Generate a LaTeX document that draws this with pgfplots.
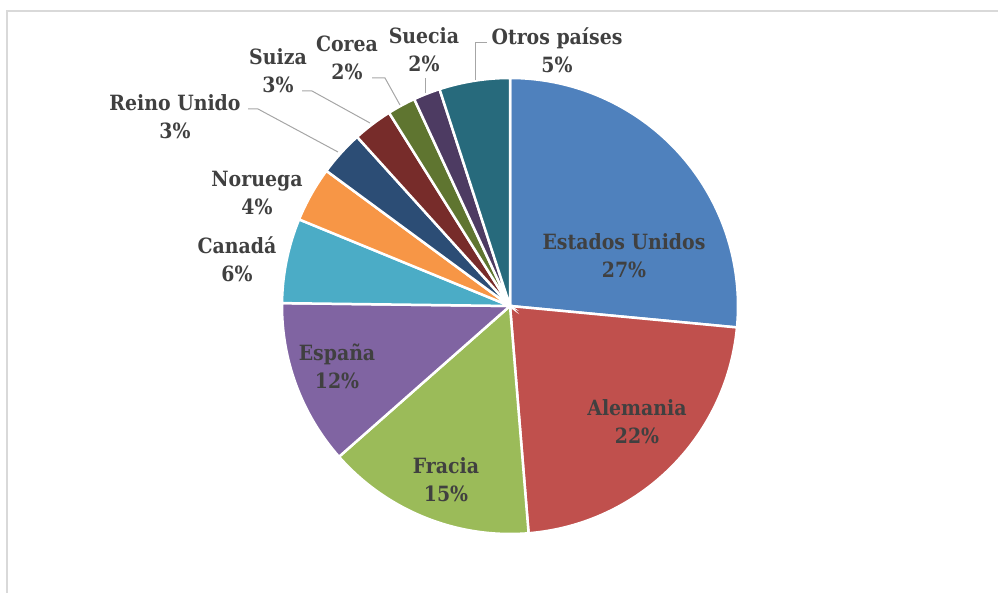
\documentclass[border=0pt]{standalone}
\usepackage{pgfplots}
\usepackage{pgfplotstable}
\pgfplotsset{compat=1.18}
\usepackage{fontspec}
\setmainfont{DejaVu Serif Condensed}

\definecolor{cUS}{HTML}{4F81BD}
\definecolor{cDE}{HTML}{C0504D}
\definecolor{cFR}{HTML}{9BBB59}
\definecolor{cES}{HTML}{8064A2}
\definecolor{cCA}{HTML}{4BACC6}
\definecolor{cNO}{HTML}{F79646}
\definecolor{cUK}{HTML}{2C4D75}
\definecolor{cCH}{HTML}{772C2A}
\definecolor{cKR}{HTML}{5F7530}
\definecolor{cSE}{HTML}{4D3B62}
\definecolor{cOT}{HTML}{276A7C}
\definecolor{labeltext}{HTML}{404040}
\definecolor{leader}{HTML}{A6A6A6}
\definecolor{framegray}{HTML}{D9D9D9}

% share (%), shown percentage, colour, label centre in pixels (from top left)
\pgfplotstableread[col sep=comma]{
name,value,pct,col,lx,ly
Estados Unidos,26.5,27,cUS,624,256
Alemania,22.2,22,cDE,637,422
Fracia,14.8,15,cFR,446,480
España,11.7,12,cES,337,366
Canadá,6.0,6,cCA,237,259
Noruega,3.9,4,cNO,257,193
Reino Unido,3.2,3,cUK,175,117
Suiza,2.8,3,cCH,278,71
Corea,2.0,2,cKR,347,58
Suecia,1.9,2,cSE,424,50
Otros países,5.0,5,cOT,557,50
}\piedata

\begin{document}
\begin{tikzpicture}
\pgfplotstablegetrowsof{\piedata}
\pgfmathtruncatemacro\lastrow{\pgfplotsretval-1}
\begin{axis}[
  x=1bp, y=1bp, xmin=0, xmax=998, ymin=0, ymax=593,
  hide axis, clip=false, anchor=south west, at={(0,0)},
]
\path (axis cs:0,0) coordinate (sw) (axis cs:998,593) coordinate (ne);
% chart frame
\draw[framegray, line width=1.5bp] (axis cs:998,582) -- (axis cs:7,582) -- (axis cs:7,0);
\def\cum{0}
\pgfplotsforeachungrouped \i in {0,...,\lastrow}{
  \pgfplotstablegetelem{\i}{value}\of\piedata \let\v\pgfplotsretval
  \pgfplotstablegetelem{\i}{col}\of\piedata \let\c\pgfplotsretval
  \pgfplotstablegetelem{\i}{name}\of\piedata \let\n\pgfplotsretval
  \pgfplotstablegetelem{\i}{pct}\of\piedata \let\p\pgfplotsretval
  \pgfplotstablegetelem{\i}{lx}\of\piedata \let\lx\pgfplotsretval
  \pgfplotstablegetelem{\i}{ly}\of\piedata \let\ly\pgfplotsretval
  \pgfmathsetmacro\a{90-3.6*\cum}
  \pgfmathsetmacro\b{90-3.6*(\cum+\v)}
  \pgfmathsetmacro\ty{593-\ly}
  \edef\temp{%
    \noexpand\fill[\c, draw=white, line width=2.5bp] (axis cs:510,287) -- ++(\a:228bp)
      arc[start angle=\a, end angle=\b, radius=228bp] -- cycle;
  }\temp
  \edef\temp{%
    \noexpand\node[text=labeltext, font=\noexpand\fontsize{21bp}{28bp}\noexpand\selectfont\noexpand\bfseries,
      align=center, inner sep=0pt] at (axis cs:\lx,\ty) {\n\noexpand\\\p\noexpand\%};
  }\temp
  \pgfmathsetmacro\cum{\cum+\v}
}
% leader lines
\draw[leader, line width=1bp] (axis cs:248,484) -- (axis cs:258,484) -- (axis cs:338,441);
\draw[leader, line width=1bp] (axis cs:302,502) -- (axis cs:312,502) -- (axis cs:370,470);
\draw[leader, line width=1bp] (axis cs:372,515) -- (axis cs:385,515) -- (axis cs:400,488);
\draw[leader, line width=1bp] (axis cs:425,515) -- (axis cs:425,500);
\draw[leader, line width=1bp] (axis cs:487,550) -- (axis cs:475,550) -- (axis cs:475,513);
\end{axis}
\pgfresetboundingbox
\path[use as bounding box] (sw) rectangle (ne);
\end{tikzpicture}
\end{document}
